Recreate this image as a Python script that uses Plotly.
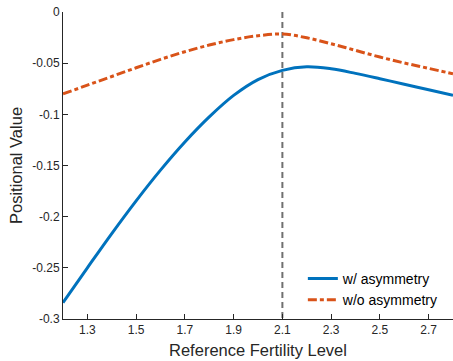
import plotly.graph_objects as go

x_vals = [1.2, 1.3, 1.4, 1.5, 1.6, 1.7, 1.8, 1.9, 2.0, 2.1, 2.2, 2.3, 2.4, 2.5, 2.6, 2.7, 2.8]
with_asym = [-0.284, -0.250, -0.2165, -0.1845, -0.1545, -0.127, -0.1025, -0.0815, -0.066, -0.057,
             -0.0535, -0.0555, -0.0600, -0.0652, -0.0706, -0.0760, -0.0813]
without_asym = [-0.080, -0.0715, -0.063, -0.0545, -0.0463, -0.0388, -0.0323, -0.0270, -0.0232, -0.0215,
                -0.0252, -0.0310, -0.0375, -0.0440, -0.0498, -0.0551, -0.0604]
ref_level = 2.1
x_ticks = [1.3, 1.5, 1.7, 1.9, 2.1, 2.3, 2.5, 2.7]
y_ticks = [0, -0.05, -0.1, -0.15, -0.2, -0.25, -0.3]
y_tick_labels = ["0", "-0.05", "-0.1", "-0.15", "-0.2", "-0.25", "-0.3"]

FONT = "Liberation Sans, Arial, sans-serif"

fig = go.Figure()
fig.add_trace(go.Scatter(x=[ref_level, ref_level], y=[0, -0.3], mode="lines",
                         line=dict(color="#707070", width=2, dash="6px,4px"),
                         showlegend=False, hoverinfo="skip"))
fig.add_trace(go.Scatter(x=x_vals, y=with_asym, mode="lines", name="w/ asymmetry",
                         line=dict(color="#0072BD", width=3, shape="spline")))
fig.add_trace(go.Scatter(x=x_vals, y=without_asym, mode="lines", name="w/o asymmetry",
                         line=dict(color="#D95319", width=3, shape="spline", dash="9px,3px,4px,3px")))

axis_common = dict(showline=True, linecolor="#262626", linewidth=1, ticks="inside",
                   ticklen=5, tickcolor="#262626", showgrid=False, zeroline=False,
                   tickfont=dict(family=FONT, size=12, color="#262626"),
                   mirror=False)

fig.update_layout(
    width=453, height=361,
    margin=dict(l=63, r=0, t=12, b=42),
    paper_bgcolor="white", plot_bgcolor="white",
    font=dict(family=FONT, color="#262626"),
    xaxis=dict(range=[1.2, 2.8], tickvals=x_ticks, ticktext=[f"{v:.1f}" for v in x_ticks],
               title=dict(text="Reference Fertility Level", font=dict(size=16.5), standoff=8),
               **axis_common),
    yaxis=dict(range=[-0.3, 0], tickvals=y_ticks, ticktext=y_tick_labels,
               title=dict(text="Positional Value", font=dict(size=16.5), standoff=5),
               **axis_common),
    legend=dict(x=0.615, y=0.01, xanchor="left", yanchor="bottom", bgcolor="rgba(0,0,0,0)",
                font=dict(size=14, color="#000000"), tracegroupgap=0, itemwidth=30),
)

fig.write_html("out.html")
